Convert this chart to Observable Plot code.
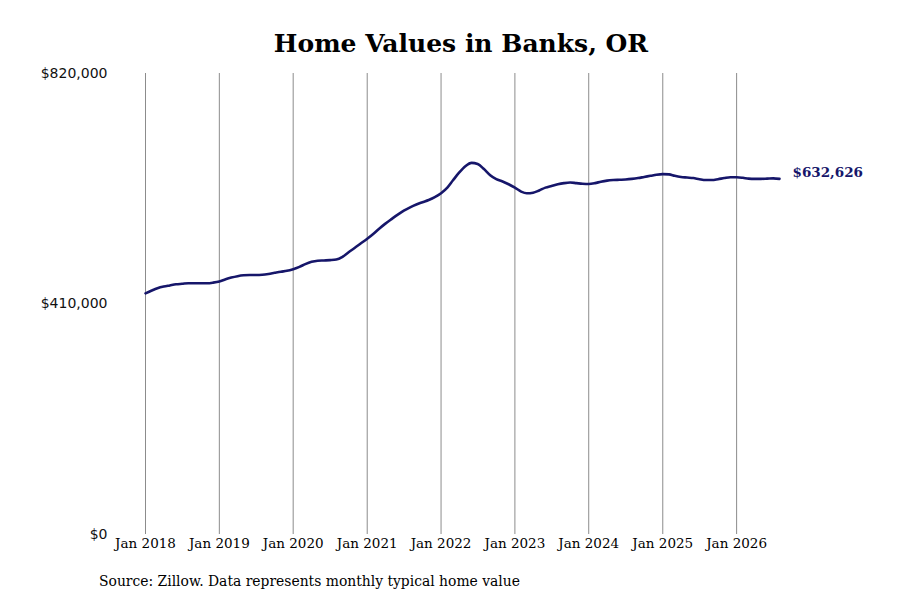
<!DOCTYPE html>
<html>
<head>
<meta charset="utf-8">
<script src="https://cdn.jsdelivr.net/npm/d3@7"></script>
<script src="https://cdn.jsdelivr.net/npm/@observablehq/plot@0.6"></script>
<style>
  html, body { margin: 0; padding: 0; background: #fff; }
  #wrap { position: relative; width: 900px; height: 600px; overflow: hidden; }
  #title { position: absolute; left: 0; top: 28px; width: 922px; text-align: center;
           font-family: "DejaVu Serif", serif; font-weight: bold; font-size: 25px; line-height: 32px; color: #000; }
  #chart { position: absolute; left: 0; top: 60px; }
  #caption { position: absolute; left: 99px; top: 572px; font-family: "DejaVu Serif", serif;
             font-size: 13.9px; line-height: 18px; color: #000; }
</style>
</head>
<body>
<div id="wrap">
  <div id="title">Home Values in Banks, OR</div>
  <div id="chart"></div>
  <div id="caption">Source: Zillow. Data represents monthly typical home value</div>
</div>
<script>
// Monthly typical home value, Jan 2018 – Aug 2026 (thousands of dollars)
const startMonth = "2018-01";
const values2018 = [429, 434, 438, 441, 443, 445, 446, 447, 447, 447, 447, 448];
const values2019 = [450, 454, 457, 459.5, 461, 461.5, 461.5, 462, 463.5, 465.5, 467.5, 469];
const values2020 = [472, 476, 481, 485, 487, 487.5, 488, 489, 494, 502, 510, 518];
const values2021 = [526, 535, 544, 553, 561, 569, 576, 582, 587, 591, 595, 600];
const values2022 = [607, 617, 630, 644, 655, 661, 659, 650, 639, 632, 628, 623];
const values2023 = [617, 610, 607, 608, 612, 617, 620, 623, 625, 626, 625, 624];
const values2024 = [623.5, 625, 627.5, 629.5, 630.5, 631, 631.5, 632.5, 634, 636, 638, 640];
const values2025 = [641, 640.5, 638, 636, 635, 634, 632, 630.5, 630.5, 632, 634, 635.5];
const values2026 = [635.5, 634.5, 633, 632.5, 632.5, 633, 633.5, 632.626];

const yTicks = [0, 410000, 820000];
const gridYears = [2018, 2019, 2020, 2021, 2022, 2023, 2024, 2025, 2026];
const lastLabel = "$632,626";

const allValues = [].concat(values2018, values2019, values2020, values2021, values2022,
                            values2023, values2024, values2025, values2026);
const start = new Date(startMonth + "-01T00:00:00");
const data = allValues.map((v, i) => ({
  date: new Date(start.getFullYear(), start.getMonth() + i, 1),
  value: v * 1000
}));
const last = data[data.length - 1];
const gridDates = gridYears.map(y => new Date(y, 0, 1));

const fmtMoney = d3.format("$,.0f");
const fmtMonth = d3.timeFormat("%b %Y");

const plot = Plot.plot({
  width: 900,
  height: 500,
  marginLeft: 145,
  marginRight: 121,
  marginTop: 13,
  marginBottom: 26,
  style: { fontFamily: "DejaVu Serif", fontSize: "13.5px", color: "#000", background: "#fff" },
  x: { type: "time", domain: [data[0].date, last.date] },
  y: { domain: [0, 820000] },
  marks: [
    Plot.ruleX(gridDates, { y1: 0, y2: 820000, stroke: "#8c8c8c", strokeWidth: 1 }),
    Plot.axisX({ ticks: gridDates, tickFormat: fmtMonth, tickSize: 0, tickPadding: 4, label: null,
                 fontFamily: "DejaVu Serif", fontSize: 13.5 }),
    Plot.axisY({ ticks: yTicks, tickFormat: fmtMoney, tickSize: 0, tickPadding: 38, label: null,
                 fontFamily: "DejaVu Sans", fontSize: 14, fill: "#111" }),
    Plot.line(data, { x: "date", y: "value", stroke: "#16166a", strokeWidth: 2.6, curve: "monotone-x" }),
    Plot.text([last], { x: "date", y: "value", text: () => lastLabel, textAnchor: "start", dx: 13, dy: -6,
                        fill: "#16166a", fontWeight: "bold", fontSize: 13.5, fontFamily: "DejaVu Serif" })
  ]
});
document.getElementById("chart").appendChild(plot);
</script>
</body>
</html>
